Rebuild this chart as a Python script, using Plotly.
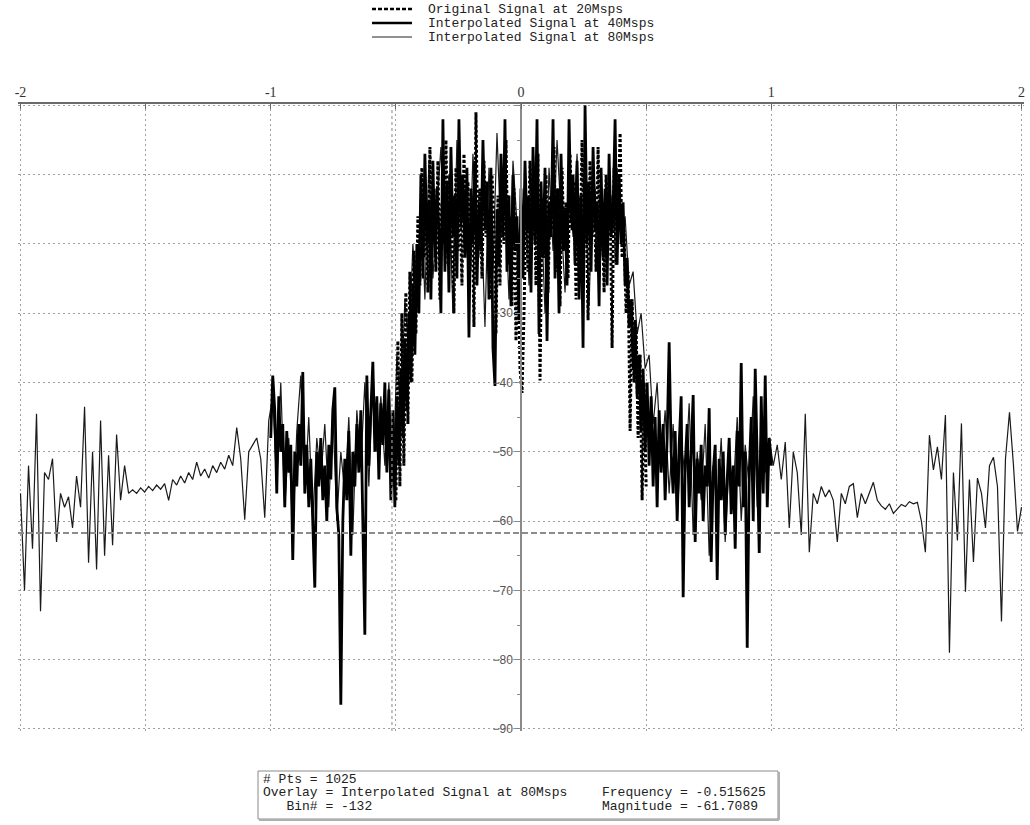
import numpy as np
import plotly.graph_objects as go

# ---------------- data ----------------
# Original signal at 20Msps, normalised frequency -0.5 .. 0.5 (dB)
orig_20 = [
    -57, -34, -55, -30, -52, -27, -46, -24, -40, -21, -33, -16,
    -26, -9, -22, -15, -27, -6, -19, -12, -24, -8,
    -28, -14, -20, -5, -23, -10, -17, -30, -9, -21,
    -13, -26, -7, -18, -11, -24, -14, -32, -1, -22,
    -12, -25, -8, -19, -15, -28, -10, -17, -33, -13,
    -26, -9, -20, -5, -23, -16, -29, -12, -34, -22,
    -38, -41.5, -30, -14, -24, -8, -19, -11, -26, -7,
    -39.7, -15, -22, -10, -27, -13, -18, -6, -24, -12,
    -29, -9, -21, -14, -25, -7, -18, -11, -28, -13,
    -22, -5, -20, -15, -31, -8, -19, -12, -24, -6,
    -21, -14, -27, -10, -18, -13, -35, -9, -23, -16,
    -4, -22,
    -18, -30, -24, -47, -28, -40, -32, -48, -36, -57, -40, -55,
]

# Interpolated signal at 40Msps, normalised frequency -1 .. 1 (dB)
interp_40 = [
    -48, -39, -44, -56, -42, -50, -46, -58, -47, -53,
    -49, -65.6, -50, -55, -46, -52, -38.5, -56, -49, -58,
    -51, -62, -69.6, -50, -55, -48, -57, -52, -60, -49,
    -54, -44, -40.7, -58, -62, -86.5, -60, -51, -57, -47,
    -65, -50, -55, -46, -53, -44, -58, -76.4, -39, -52,
    -44, -37, -50, -42, -54, -43, -49, -40, -53, -41,
    -57, -44, -58,
    -42, -52, -38, -48, -34, -44, -30, -40, -26, -36,
    -20, -30, -10, -25, -7, -20, -14, -28, -8, -22,
    -12, -18, -30, -2, -24, -11, -27, -6, -19, -13,
    -25, -2, -17, -10, -22, -9, -33.5, -12, -20, -8,
    -26, -14, -21, -5, -18, -11, -28, -9, -35, -40.5,
    -15, -23, -7, -19, -2, -24, -13, -29, -10, -21,
    -16, -31, -12, -25, -8, -18, -13, -27, -6, -20,
    -2, -33, -11, -22, -9, -34, -14, -19, -2, -25,
    -12, -30, -7, -21, -15, -26, -2, -17, -10, -23,
    -8, -28, -13, -35, 0, -20, -11, -24, -6, -18,
    -14, -29, -9, -22, -12, -26, -7, -19, -15, -2,
    -23, -10,
    -20, -14, -26, -22, -32, -28, -38, -31, -42, -36, -47, -38, -50,
    -40, -52, -42, -55, -45, -58, -44, -53, -46, -57,
    -48, -34.2, -50, -56, -47, -60, -49, -42, -71, -52,
    -46, -58, -50, -41.8, -63, -51, -56, -49, -60, -52,
    -55, -43.7, -65.9, -53, -49, -68.5, -51, -57, -50, -62,
    -54, -48, -59, -52, -64, -47, -55, -37.2, -58, -50,
    -78.3, -53, -45, -60, -38, -54, -64.6, -42, -56, -39,
    -58, -48, -52,
]

# Interpolated signal at 80Msps, normalised frequency -2 .. 2 (dB)
interp_80 = [
    -56, -70, -52, -64, -44.5, -73, -53, -54, -51, -63,
    -56, -58, -56.5, -61, -53.5, -58, -43.5, -66, -50, -67,
    -45.5, -65, -50.5, -63.5, -47.5, -57, -52, -56, -55.5, -56,
    -55.2, -55.8, -55, -55.6, -54.8, -55.4, -54.6, -57, -54, -54.8,
    -53.5, -54.5, -53, -54, -51.5, -53.5, -52.5, -53.8, -52, -53,
    -51.5, -52.5, -50.5, -52, -46.5, -51, -59.8, -50, -49, -48,
    -51, -59.5, -45.5,
    -42, -55, -40, -58, -48, -62, -47, -39, -56, -45,
    -60, -48, -54, -46, -58, -44, -60, -50, -56, -45,
    -62, -44, -52, -40, -55, -38, -50, -42, -52, -40,
    -55, -36, -45, -28, -36, -20, -30, -12, -28, -8,
    -25, -15, -6, -22, -10, -30, -5, -18, -12, -27,
    -7, -20, -14, -32, -9, -24, -4, -19, -13, -28,
    -8, -17, -22, -10, -26, -6, -18, -14, -30, -9,
    -21, -5, -16, -27, -11, -19, -7, -24, -13, -29,
    -8, -17, -12, -22, -10, -18, -9, -20, -16, -26,
    -24, -33, -30, -38, -36, -46, -40, -52, -44, -56,
    -46, -60, -48, -54, -43, -62, -50, -57, -46, -65,
    -52, -58, -48, -63, -51, -56, -45, -60, -49, -55,
    -42, -58, -46, -53, -48,
    -52, -49, -54, -48.6, -61, -50, -53, -62, -44.5, -64.5,
    -56, -57.5, -55, -56.5, -55.5, -57, -63, -56, -57.5, -55,
    -54.6, -59.5, -56, -57.5, -55.8, -54.4, -57, -57.8, -58.3, -57.5,
    -58.9, -58.2, -57.6, -57.9, -57.2, -57.5, -57.3, -60, -64.5, -47.6,
    -52.6, -49.3, -54, -44.7, -79, -53, -62.8, -45.9, -70.2, -54,
    -65.9, -53.8, -56, -61, -52, -50.8, -55, -74.5, -51, -44.3,
    -52, -61.5, -58,
]

series_names = ["Original Signal at 20Msps",
                "Interpolated Signal at 40Msps",
                "Interpolated Signal at 80Msps"]

x_tick_vals = [-2, -1.5, -1, -0.5, 0, 0.5, 1, 1.5, 2]
x_tick_text = ["-2", "", "-1", "", "0", "", "1", "", "2"]
y_tick_vals = [0, -10, -20, -30, -40, -50, -60, -70, -80, -90]
y_tick_text = ["", "", "", "\u221230", "\u221240", "\u221250", "\u221260",
               "\u221270", "\u221280", "\u221290"]

n_pts = 1025
marker_freq = -0.515625
marker_bin = -132
marker_mag = -61.7089

# frequency bins (evenly spaced across each series' span)
f20 = np.linspace(-0.5, 0.5, len(orig_20))
f40 = np.linspace(-1.0, 1.0, len(interp_40))
f80 = np.linspace(-2.0, 2.0, len(interp_80))

# ---------------- layout geometry ----------------
W, H = 1030, 825
ML, MR, MT, MB = 18, 6, 104, 94
X_RANGE = [-2.01, 2.01]
Y_RANGE = [-90.3, 0.2]


def xp(px):
    return (px - ML) / (W - ML - MR)


def yp(py):
    return (H - MB - py) / (H - MT - MB)


fig = go.Figure()

fig.add_trace(go.Scatter(x=f80, y=interp_80, mode="lines", name=series_names[2],
                         line=dict(color="#1a1a1a", width=1.2), showlegend=False))
fig.add_trace(go.Scatter(x=f40, y=interp_40, mode="lines", name=series_names[1],
                         line=dict(color="#000000", width=2.8), showlegend=False))
fig.add_trace(go.Scatter(x=f20, y=orig_20, mode="lines", name=series_names[0],
                         line=dict(color="#000000", width=3, dash="3px,2px"),
                         showlegend=False))

# cursor lines
fig.add_hline(y=marker_mag, line=dict(color="#8c8c8c", width=2, dash="6px,3px"))
fig.add_vline(x=marker_freq, line=dict(color="#9a9a9a", width=1.2, dash="3px,3px"))

grid_style = dict(showgrid=True, gridcolor="#a0a0a0", gridwidth=1, griddash="2px,3px")

fig.update_layout(
    width=W, height=H,
    margin=dict(l=ML, r=MR, t=MT, b=MB),
    paper_bgcolor="white", plot_bgcolor="white",
    showlegend=False,
    xaxis=dict(range=X_RANGE, side="top", tickmode="array",
               tickvals=x_tick_vals, ticktext=x_tick_text,
               ticks="inside", ticklen=5, tickcolor="#666",
               showline=True, linecolor="#6a6a6a", linewidth=1.5,
               zeroline=False,
               tickfont=dict(family="Liberation Serif", size=14, color="#333"),
               **grid_style),
    yaxis=dict(range=Y_RANGE, anchor="free", position=0.5, side="left",
               tickmode="array", tickvals=y_tick_vals, ticktext=y_tick_text,
               ticks="outside", ticklen=5, tickcolor="#888",
               showline=True, linecolor="#8a8a8a", linewidth=1.5,
               zeroline=False,
               minor=dict(tickmode="linear", tick0=-85, dtick=10, ticks="outside",
                          ticklen=3, tickcolor="#888", showgrid=False),
               tickfont=dict(family="Liberation Sans", size=12, color="#555"),
               **grid_style),
)

# ---------------- manual legend ----------------
leg_rows = [9, 23, 37]
leg_styles = [dict(color="black", width=2.5, dash="4px,2px"),
              dict(color="black", width=2.5),
              dict(color="#222", width=1)]
for name, row, style in zip(series_names, leg_rows, leg_styles):
    fig.add_shape(type="line", xref="paper", yref="paper",
                  x0=xp(372), x1=xp(412), y0=yp(row), y1=yp(row), line=style)
    fig.add_annotation(xref="paper", yref="paper", x=xp(427), y=yp(row + 1),
                       xanchor="left", yanchor="middle", showarrow=False,
                       text=name, borderpad=0,
                       font=dict(family="Liberation Mono", size=13, color="#222"))

# ---------------- info box ----------------
fig.add_shape(type="rect", xref="paper", yref="paper",
              x0=xp(258), x1=xp(778), y0=yp(819), y1=yp(771),
              line=dict(color="#8a8a8a", width=1), fillcolor="white")
fig.add_shape(type="line", xref="paper", yref="paper",
              x0=xp(779), x1=xp(779), y0=yp(820), y1=yp(772),
              line=dict(color="#b0b0b0", width=2))
fig.add_shape(type="line", xref="paper", yref="paper",
              x0=xp(259), x1=xp(779), y0=yp(820), y1=yp(820),
              line=dict(color="#b0b0b0", width=2))

box_font = dict(family="Liberation Mono", size=13, color="#222")
left_lines = [f"# Pts = {n_pts}",
              f"Overlay = {series_names[2]}",
              f"\u00a0\u00a0\u00a0Bin# = {marker_bin}"]
right_lines = ["", f"Frequency = {marker_freq}", f"Magnitude = {marker_mag}"]
for i, (lt, rt) in enumerate(zip(left_lines, right_lines)):
    yy = 779 + 13.5 * i
    fig.add_annotation(xref="paper", yref="paper", x=xp(262), y=yp(yy),
                       xanchor="left", yanchor="middle", showarrow=False,
                       text=lt, borderpad=0, font=box_font)
    if rt:
        fig.add_annotation(xref="paper", yref="paper", x=xp(601), y=yp(yy),
                           xanchor="left", yanchor="middle", showarrow=False,
                           text=rt, borderpad=0, font=box_font)

fig.write_html("out.html")
